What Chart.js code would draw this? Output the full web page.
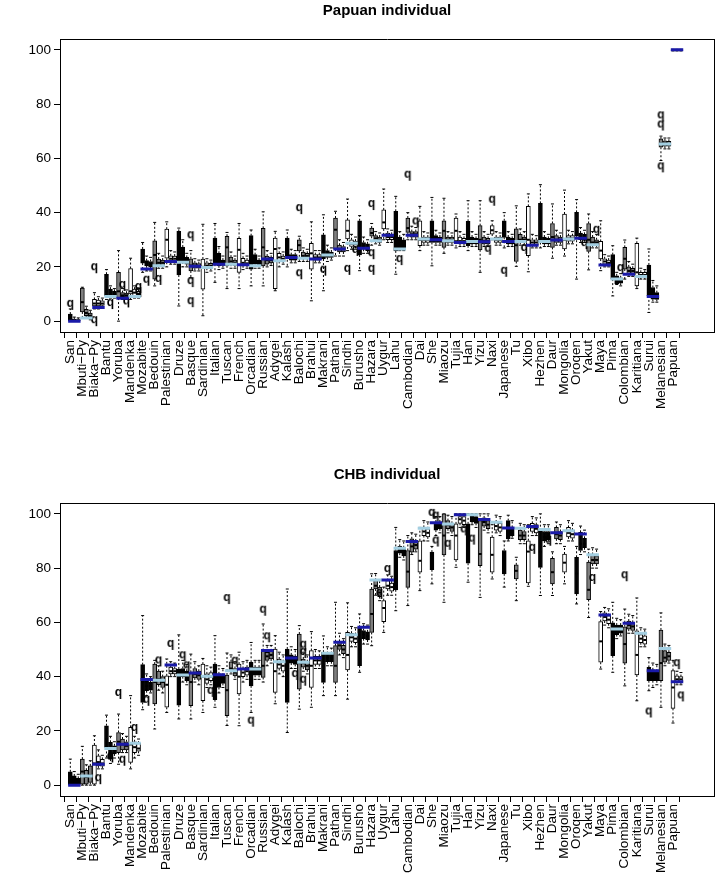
<!DOCTYPE html>
<html><head><meta charset="utf-8">
<script src="https://cdn.jsdelivr.net/npm/chart.js"></script>
<style>
html,body{margin:0;padding:0;background:#fff;}
#wrap{position:relative;width:720px;height:880px;overflow:hidden;}
#c1{position:absolute;left:0;top:0;}
#c2{position:absolute;left:0;top:464px;}
</style></head><body>
<div id="wrap"><canvas id="c1" width="720" height="464"></canvas><canvas id="c2" width="720" height="416"></canvas></div>
<script>
const populations = ["San","Mbuti\u2212Py","Biaka\u2212Py","Bantu","Yoruba","Mandenka","Mozabite","Bedouin","Palestinian","Druze","Basque","Sardinian","Italian","Tuscan","French","Orcadian","Russian","Adygei","Kalash","Balochi","Brahui","Makrani","Pathan","Sindhi","Burusho","Hazara","Uygur","Lahu","Cambodian","Dai","She","Miaozu","Tujia","Han","Yizu","Naxi","Japanese","Tu","Xibo","Hezhen","Daur","Mongolia","Oroqen","Yakut","Maya","Pima","Colombian","Karitiana","Surui","Melanesian","Papuan"];
const yTickValues = [0,20,40,60,80,100];

// ---- Panel 1: Papuan individual ----
const papuanLine = [0,1.2,5,9.1,8.4,9.1,19.2,20.4,22,21.7,20.2,19.8,21,21,20.8,20.4,22.9,22.3,23.5,23.2,22.9,24.4,26.6,28.7,26.9,29.6,31.7,26.6,31.7,30.3,30,29.6,29,29.4,29.3,30.3,29.4,29.4,28,29.4,29.9,30.3,30.6,28.2,20.7,15.5,17.3,16.5,9.1,65.3,100];
const papuanBoxA = [[0,0.2,1,2.6,4.5],[1,3.4,7,12.2,12.5],[4.5,5.6,6.5,8,10.5],[8,9.3,11,17.3,19],[0,8.5,11,18,26],[8,10,11,19.4,23.2],[18,21.4,23,26.6,29],[13,15.5,24.4,29.6,36.4],[20,23.2,30,33.9,36.6],[5.6,17,23,33.1,34.3],[16,18.5,20.5,23,26],[2,11.8,20,22.9,35.7],[14.3,21,24,30.6,36],[12,20.4,27.2,31.3,32.7],[12,18,26.3,30.5,36],[13,19.2,24,31.5,33.6],[13,20.4,27.2,34.2,40.3],[11.2,12,26.6,30.6,33.1],[20,24.1,27,30.6,33.6],[22,25.9,28,30,31.3],[7.5,19.2,25,28.7,36.6],[11.2,22.9,26,31.8,39.2],[24,26.6,33.7,38,40.5],[26,30.3,33.3,37.3,45],[18.6,24.4,28,37,38.9],[28,31.3,32.5,34.3,36],[30,34,36.4,41,48.7],[17.3,25.9,30,40.5,46],[30,32.7,34.3,38,40],[26,27.8,30,37,42.3],[20.4,29,31.5,37,45.6],[25,27.2,33.3,37,45.3],[27,29.6,33.3,38,39.5],[26,27.8,30,36.8,44.4],[18,26.3,30,35.2,44.4],[30,32.1,33.5,35.2,37],[27,30.9,33,37,40],[20.2,22,28,34,42.5],[18.2,24.1,30,42.3,46.9],[27,29,31,43.4,50.3],[23.2,27.2,31,36,43.2],[24,26.6,30,39.5,48.3],[15.5,31.3,33,40.1,44.8],[18.9,25.7,30,36,39.5],[18.6,22.9,26,29.4,37],[9.3,15.5,20,24.5,27.8],[15.5,19.2,23,27.2,29.9],[12,13,18,28.7,30.6],[3.2,9.3,12,20.7,26.6],[59.2,64.1,65.5,67.2,68.2],[99.6,99.8,100,100,100]];
const papuanBoxB = [[0,0,0.3,0.8,1.5],[1.5,2,3,4.4,5.5],[4.5,5.6,6.5,7.8,9],[8.5,9.5,10.5,11.8,13],[8,9,9.5,10.5,12],[8.5,9.3,10.5,11.8,13],[18.5,20.4,21.5,22.3,24],[19.5,20.4,21.5,22.9,25],[21,21.7,23,24.1,26],[20,21.8,23,27.3,30],[18.5,19.5,20.5,21.5,23],[18,19.5,20.5,21.5,23],[19,20.4,22,25,27.5],[19.5,21,22,23.6,25.5],[19,20.4,21.5,23.2,25],[19.5,21,22.5,24.5,26.5],[20,21,22.5,24,26],[20,22,23.5,25,27],[21.5,22.5,23.5,24.5,26.5],[22,23,24,25.5,27],[21.5,22.5,23.5,24.5,26],[22,23.5,24.5,26,28],[24,25.5,26.5,28,30],[26.5,27.5,28.5,30,32],[25,26.5,27.5,29,31],[28.5,29.5,30.5,31.5,33],[29,30,31,32.5,34],[26,27,28.5,31,33],[30,31,32,33,35],[28,29,30,31,33],[28,29,30,31.5,33.5],[28,29,30,31,33],[27.5,28.5,29.5,31,33],[27.5,28.5,29.5,31,33],[27.5,28.5,29.5,31,33],[28,29,30,31,33],[27.5,28.5,29.5,31,33],[28,29,30,32,34],[27,28,29,30,32],[27.5,28.5,29.5,31,33],[28,29,30,31.5,33.5],[28.5,29.5,30.5,31.5,33.5],[29,30,31,32.5,34.5],[27,28,29,31,33],[20,21,22,23,24.5],[13.5,13.7,15,16.7,18],[16.5,17.5,18.5,20,22],[15.5,16.2,17,18,19.5],[7,8.1,9.5,12.4,15],[63.5,64.5,65.5,66.5,67.5],[99.6,99.8,100,100,100]];
const papuanBoxC = [[0,0,0.2,0.6,1.2],[0.5,1.5,2,3,4],[5,5.8,6.5,7.5,8.5],[8.5,9.3,10,11,12],[8,8.8,9.5,10.3,11.5],[8.5,9.5,10,11,12],[18.5,20,21,22,23.5],[19.5,20.5,21.5,22.5,24],[21,22,23,24,25.5],[20,21,22,23.5,25],[18.5,19.5,20.3,21.2,22.5],[18.5,19.5,20.5,21.3,22.5],[19.5,20.5,21.5,22.5,24],[19.5,20.5,21.5,22.5,24],[19.5,20.5,21.3,22.5,24],[19.5,20.5,21.5,22.5,24],[20.5,21.5,22.5,23.5,25],[21,22,23,24,25.5],[21.5,22.5,23.5,24.5,26],[22,23,24,25,26.5],[21.5,22.5,23.5,24.5,26],[22.5,23.5,24.5,25.5,27],[24,25.5,26.5,27.5,29],[26.5,27.5,28.5,29.5,31],[25,26,27,28.5,30],[28,29,30,31,32.5],[29,30,31,32,33.5],[26,27,28,30,32],[30,31,32,33,34.5],[28,29,30,31,32.5],[28,29,30,31,32.5],[28,29,30,31,32.5],[27.5,28.5,29.5,30.5,32],[27.5,28.5,29.5,30.5,32],[27.5,28.5,29.5,30.5,32],[28,29,30,31,32.5],[27.5,28.5,29.5,30.5,32],[28,29,30,31,33],[27,28,29,30,31.5],[27.5,28.5,29.5,30.5,32],[28,29,30,31,32.5],[28.5,29.5,30.5,31.5,33],[29,30,31,32,33.5],[27,28,29,30,32],[20,21,21.5,22.5,24],[13,14,15,16,17.5],[16.5,17.5,18.5,19.5,21],[15.5,16.2,17,18,19],[7,8,9,10.5,13],[63.5,64.5,65.3,66.3,67.5],[99.6,99.8,100,100,100]];
// [population index, box slot (0,1,2), value]
const papuanOutliers = [[0,0,6],[2,0,0],[2,0,19.5],[3,1,6.3],[4,1,13],[4,2,6.9],[5,2,12.2],[5,2,10.7],[6,1,14.9],[7,1,15.2],[10,0,31.3],[10,0,14.4],[10,0,7],[19,0,41.3],[19,0,17.3],[21,0,18.6],[23,0,18.9],[23,2,25.9],[25,0,42.8],[25,0,24.7],[25,0,18.9],[27,1,22.5],[28,0,53.6],[28,2,36.4],[34,2,26.3],[35,0,44.4],[36,0,18.2],[37,2,26.6],[42,2,28.4],[43,2,33.3],[45,2,19.2],[49,0,75.5],[49,0,72.1],[49,0,56.7]];

// ---- Panel 2: CHB individual ----
const chbLine = [0,3.4,7.7,13.5,15.1,15.4,38.9,38.7,44.3,40.6,41.3,40.1,40.7,42.2,42.8,42.8,49.6,45.5,46.9,45.3,46.9,48.6,52.7,55.4,58.2,75.6,75.6,87.3,89.8,94.7,96.7,96.3,99.7,99.7,97.9,96.9,94.8,94.7,95.3,94.2,93,93.8,92.6,84.9,62.7,57.6,59.7,56,42.2,50.4,38.1];
const chbBoxA = [[0,0,2,4.9,9.6],[0,0.4,5,9.6,14.3],[0,0.4,8,14.8,18.2],[10,13.9,17,21.9,25.8],[7.7,12,16,19.4,26.2],[6,8.4,15,21.3,33],[27.8,30.5,38,44.4,62.5],[20.7,29.9,38,44.6,46],[26.8,28.7,37,40.3,46.5],[24.4,29.5,38,42.8,55.4],[24.4,29.3,38,41.6,48.3],[26.8,31.1,40,44.6,46.7],[28.7,31.5,38,44.6,55.1],[22,25.6,35,40.6,48.7],[21.9,33.6,40,44.6,49],[26.8,36.6,40,45.3,52.6],[38,39.7,44,49.6,59.4],[30,34.2,42,50.2,55.1],[19.4,30.5,40,50.2,72.3],[28,35.4,45,55.7,58.8],[28.7,36,44,49.6,56.6],[33,37.9,44,49,55],[33,37.9,44,51.4,67.4],[31.7,42.5,48,56.3,67.2],[41.6,44,50,58.2,63.1],[51.4,56.3,63.1,72.3,77.9],[56.3,60.3,65.3,68,73],[64.3,72,80,86.5,95],[66.2,72.9,78.7,86.5,92],[71.7,78.5,82.7,90.1,95],[74.2,79.4,82,85.9,88],[67.4,84.9,92,100,100],[80.3,83,92,96.3,100],[74.8,81.8,90,96.3,100],[69.2,80.9,85.2,97.5,100],[76,78.5,84.9,91.4,96],[73,77.9,82,86.5,90],[68,76,79,81.2,84],[73.3,74.5,86.1,90.1,96],[69.9,80.3,86,93.8,100],[69.9,74.2,78.5,83.6,86],[74.2,78.5,82,85.2,88],[66.8,70.5,78,84,88],[61.8,68.4,72,82.2,87],[42.8,45.3,53,60.3,64],[41.6,47.7,54,59.8,67.4],[36.6,45,52,58.4,64.9],[31.1,40.6,48,56.9,69],[34.8,38.5,41,43.4,47],[28.7,38.5,45,57.2,63.5],[22.9,28.3,36,42.2,46]];
const chbBoxB = [[0,0.4,1.5,3.4,5],[0,0.4,3,5.5,7.5],[6,7.1,8.5,10.8,13],[8,9.6,12,15.8,18],[12,13,15,17,19],[10,12,14,16,18],[33,34.8,36.5,38.5,41],[35,37,39,42,44],[40,41,42,43.5,45.5],[38,40,41.5,43,46],[38,39.5,41,43,45.5],[36,37.5,39,41,44],[34,36,38,41,44],[41,42,43,45.5,48],[38,40,41.5,43,45.5],[39,40.5,42,43.5,46],[44,46,47.5,49,51.5],[41,43,44.5,46.5,49],[43,45,46,48,51],[42,43.5,45,46.5,49],[43,44.5,46,47.5,50],[44,45.5,47,48.5,51],[48,50,51.5,53,56],[51,53,54.5,56,58.5],[52,54,55.5,57,59.5],[70,72.3,73.5,75.5,78],[70,72.3,73.5,75.4,77.5],[84,85.5,86.5,88,90.5],[85,85.9,88,90.8,93],[90,92,93.5,95,97.5],[92,94,95.5,97,99],[93,94.5,96,97.5,99.5],[95,96.5,98,99,100],[96,97,98.5,99.5,100],[94,95.5,97,98.5,100],[93,94,95.5,97,99.5],[90,90.8,93,97.5,99.5],[89,90.5,92,94,96.5],[92,93.5,95,96.5,99],[88,90,91.5,93.5,96],[89,90.8,92.5,95,97],[90,91.5,93,95,97.5],[85,86.5,89,93.2,95.5],[80,81.5,83,85,87.5],[59,60.5,62,63.5,65.5],[54,55.5,57,59,61.5],[56,57.5,59,60.5,63],[51,52.5,54,55.5,58],[36,38.5,40.5,42.5,45],[44,45.3,47,49.6,52],[37,38.1,39,40.3,42]];
const chbBoxC = [[0,0.3,1,2.5,4],[0,1,3.5,7.1,9],[6,7,8,9.5,11],[10,11.5,13,14.5,16],[12,13,14.5,16,18],[11,12.5,13.5,15.5,17],[34,35,36.5,38,40],[34,36,38,40,42],[40,41,42,43,45],[37,38.5,40,42,44.5],[37,39,40.5,42,44],[37,38.5,40,41.5,43.5],[36,37.5,39,40.5,43],[39,40.3,41.5,43,45.5],[39,40.5,42,43.5,46],[39,40.5,42,43.5,46],[45,46.5,48,49.5,51.5],[40,42,44,45.5,48],[43,44.5,46,47.5,50],[41,42.5,44,45.5,48],[43,44.5,46,47.5,49.5],[44,45.5,47,48.5,50.5],[47,48.5,50,51.5,54],[51,52.5,54,55.5,58],[52,53.5,55,56.5,59],[68,69.5,71,73,75.5],[70,71.5,73,74.5,77],[83,84.5,86,87.5,90],[86,87,88.5,90,92.5],[90,91.5,93,94.5,97],[93,94.5,96,97,99],[92,93.5,95,96.5,99],[95,96,97.5,99,100],[95,96.5,98,99,100],[93,94.5,96,97.5,100],[92,93.5,95,96.5,99],[91,92,93.5,95,97.5],[89,90.5,92,93.5,96],[92,93,94.5,96,98.5],[89,90.5,92,93.5,96],[89,90.5,92,93.5,96],[90,91,92.5,94,96.5],[86,87.5,89,91,94],[80,81.5,83,84.5,87],[58,59.5,61,62.5,65],[55,56,57.5,59,61],[56,57,58.5,60,62.5],[51,52,53.5,55,57.5],[37,38.5,40,42,44.5],[45,46,47.5,49,51.5],[37,38,39,40,41.5]];
const chbOutliers = [[2,1,2.2],[3,1,10.2],[4,0,33.6],[4,1,9],[5,1,20.7],[6,1,31.1],[7,1,45.6],[8,1,51.7],[9,1,47.5],[9,2,43.8],[11,2,34.4],[13,0,68.6],[13,2,45.5],[15,0,23.4],[16,0,64.3],[16,1,54.5],[18,2,40.6],[19,1,51.4],[19,1,48.7],[19,1,38.5],[25,2,70.5],[26,1,79.3],[30,0,100],[30,1,99],[30,1,89.8],[31,1,88.6],[32,2,93.9],[33,1,90.5],[38,1,87.1],[39,2,90.1],[43,1,76],[46,0,77],[48,0,26.8],[50,1,44.6],[50,2,32.7]];

// ---- styling ----
const FONT = '"Liberation Sans", Arial, Helvetica, sans-serif';
const SLOT = [0, 0.33, 0.66];
const FILL = ['#000000', '#7f7f7f', '#ffffff'];
const DARK_BLUE = '#1a1aa8';
const LIGHT_BLUE = '#a3cfe2';

const qImg = document.createElement('canvas');
qImg.width = 9; qImg.height = 12;
(function(){ const c = qImg.getContext('2d'); c.font = 'bold 12px ' + FONT; c.fillStyle = '#000'; c.textAlign = 'center'; c.textBaseline = 'alphabetic'; c.fillText('q', 4.5, 8); })();

function buildChart(canvasId, title, line, boxA, boxB, boxC, outliers, xAxisHeight) {
  const sets = [boxA, boxB, boxC];
  const bars = [], meds = [], caps = [], whisk = [];
  populations.forEach((name, p) => {
    sets.forEach((set, s) => {
      const [lo, q1, med, q3, hi] = set[p];
      const x = p + SLOT[s];
      bars.push({x: x, y: [q1, q3], p: p});
      meds.push({x: x, y: med});
      caps.push({x: x, y: lo}, {x: x, y: hi});
      whisk.push({x: x, y: q3}, {x: x, y: hi}, {x: x, y: null}, {x: x, y: q1}, {x: x, y: lo}, {x: x, y: null});
    });
  });
  const meanDark = [], meanLight = [];
  line.forEach((v, p) => {
    const arr = (p % 2 === 0) ? meanDark : meanLight;
    arr.push({x: p - 0.18, y: v}, {x: p + 0.85, y: v}, {x: p + 0.86, y: null});
  });
  const outPts = outliers.map(([p, s, v]) => ({x: p + SLOT[s], y: v})).sort((a, b) => a.x - b.x);

  const datasets = [
    {type: 'line', data: meanDark, borderColor: DARK_BLUE, borderWidth: 3, pointRadius: 0, spanGaps: false, order: 0},
    {type: 'line', data: meanLight, borderColor: LIGHT_BLUE, borderWidth: 3, pointRadius: 0, spanGaps: false, order: 0},
    {type: 'line', data: outPts, showLine: false, pointStyle: qImg, pointRadius: 4, order: 1},
    {type: 'line', data: meds, showLine: false, pointStyle: 'line', pointRadius: 1.5, pointBorderWidth: 2, pointBorderColor: '#000', borderColor: '#000', order: 2},
    {type: 'bar', data: bars, barThickness: 4, grouped: false, borderSkipped: false, borderWidth: 1, borderColor: '#000',
      backgroundColor: ctx => FILL[(ctx.raw ? ctx.raw.p : 0) % 3], order: 3},
    {type: 'line', data: caps, showLine: false, pointStyle: 'line', pointRadius: 1.5, pointBorderWidth: 1, pointBorderColor: '#000', borderColor: '#000', order: 4},
    {type: 'line', data: whisk, borderColor: '#000', borderWidth: 1, borderDash: [2, 2], pointRadius: 0, spanGaps: false, order: 5}
  ];

  return new Chart(document.getElementById(canvasId), {
    data: {datasets: datasets},
    options: {
      responsive: false, animation: false, events: [],
      layout: {padding: {left: 0, right: 3, top: 0, bottom: 0}},
      plugins: {
        legend: {display: false}, tooltip: {enabled: false},
        title: {display: true, fullSize: false, text: title, color: '#000', font: {family: FONT, size: 15, weight: 'bold'}, padding: {top: 2, bottom: 19}}
      },
      scales: {
        x: {type: 'linear', position: 'bottom', min: -0.324, max: 52.87,
          afterBuildTicks: s => { s.ticks = populations.map((_, i) => ({value: i})); },
          ticks: {autoSkip: false, minRotation: 90, maxRotation: 90, padding: 2, color: '#000', font: {family: FONT, size: 13.5},
            callback: v => populations[v]},
          grid: {display: true, drawOnChartArea: false, drawTicks: true, tickLength: 6, color: '#000'},
          border: {display: true, color: '#000', width: 1},
          afterFit: s => { s.height = xAxisHeight; }},
        y: {type: 'linear', position: 'left', min: -4, max: 104,
          afterBuildTicks: s => { s.ticks = yTickValues.map(v => ({value: v})); },
          ticks: {padding: 3, color: '#000', font: {family: FONT, size: 13.5}},
          grid: {display: true, drawOnChartArea: false, drawTicks: true, tickLength: 6, color: '#000'},
          border: {display: true, color: '#000', width: 1},
          afterFit: s => { s.width = 60; }},
        x2: {type: 'linear', position: 'top', display: true, ticks: {display: false}, grid: {display: false},
          border: {display: true, color: '#000', width: 1}, afterFit: s => { s.height = 0; }},
        y2: {type: 'linear', position: 'right', display: true, ticks: {display: false}, grid: {display: false},
          border: {display: true, color: '#000', width: 1}, afterFit: s => { s.width = 0; }}
      }
    }
  });
}

buildChart('c1', 'Papuan individual', papuanLine, papuanBoxA, papuanBoxB, papuanBoxC, papuanOutliers, 132);
buildChart('c2', 'CHB individual', chbLine, chbBoxA, chbBoxB, chbBoxC, chbOutliers, 84);
</script>
</body></html>
